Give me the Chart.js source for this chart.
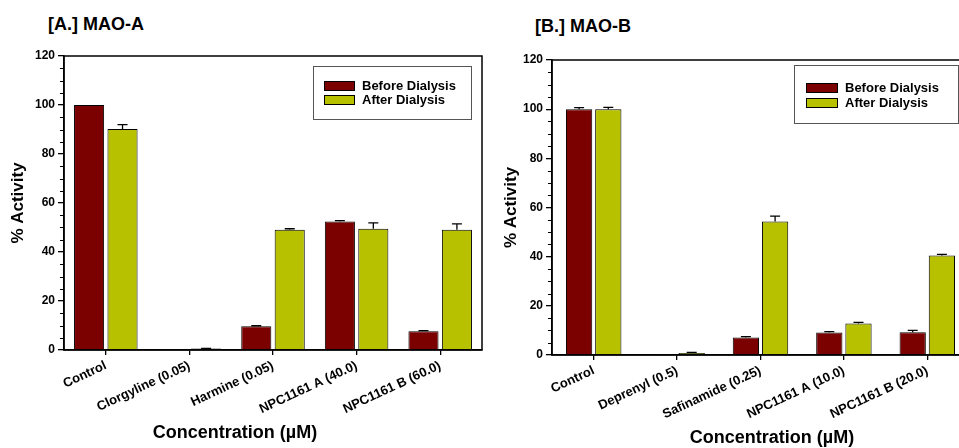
<!DOCTYPE html>
<html>
<head>
<meta charset="utf-8">
<script src="https://cdn.jsdelivr.net/npm/chart.js@4.4.1/dist/chart.umd.min.js"></script>
<style>
  body { margin: 0; width: 959px; height: 448px; overflow: hidden; background: #fff; position: relative;
         font-family: "Liberation Sans", Arial, sans-serif; }
  .wrap { position: absolute; top: 0; height: 448px; }
  .lbl { position: absolute; font-weight: bold; white-space: nowrap; font-size: 18px; color: #000; }
  .xt { transform: translateX(-50%); }
</style>
</head>
<body>
<div class="lbl" style="left:48px;top:14px">[A.] MAO-A</div>
<div class="lbl" style="left:535px;top:16px">[B.] MAO-B</div>
<div class="wrap" style="left:0;width:490px"><canvas id="chartA"></canvas></div>
<div class="wrap" style="left:480px;width:500px"><canvas id="chartB"></canvas></div>
<div class="lbl xt" style="left:235px;top:422px">Concentration (µM)</div>
<div class="lbl xt" style="left:772px;top:427px">Concentration (µM)</div>

<script>
// Panel A: MAO-A
const categoriesA = ["Control", "Clorgyline (0.05)", "Harmine (0.05)", "NPC1161 A (40.0)", "NPC1161 B (60.0)"];
const beforeA = [100, 0.2, 9.7, 52.5, 7.7];
const beforeErrA = [0, 0, 0.2, 0.3, 0.2];
const afterA = [90.2, 0.6, 49.1, 49.5, 49.1];
const afterErrA = [1.8, 0.1, 0.4, 2.4, 2.4];

// Panel B: MAO-B
const categoriesB = ["Control", "Deprenyl (0.5)", "Safinamide (0.25)", "NPC1161 A (10.0)", "NPC1161 B (20.0)"];
const beforeB = [100, 0.2, 7.1, 9.2, 9.3];
const beforeErrB = [0.6, 0, 0.4, 0.3, 0.7];
const afterB = [100, 0.8, 54.3, 12.8, 40.5];
const afterErrB = [0.7, 0.3, 2.2, 0.5, 0.4];

const yTicks = [0, 20, 40, 60, 80, 100, 120];
const seriesNames = ["Before Dialysis", "After Dialysis"];
const MAROON = "#7b0000";
const OLIVE = "#b7c100";

Chart.defaults.font.family = "'Liberation Sans', Arial, sans-serif";
Chart.defaults.color = "#000";

// error bars, box frame, minor ticks and the boxed legend
const extrasPlugin = {
  id: "extras",
  afterDatasetsDraw(chart, args, opts) {
    const ctx = chart.ctx;
    const y = chart.scales.y;
    ctx.save();
    ctx.strokeStyle = "#000";
    ctx.lineWidth = 1.3;
    chart.data.datasets.forEach((ds, i) => {
      const errs = opts.errors[i];
      chart.getDatasetMeta(i).data.forEach((bar, j) => {
        const e = errs[j];
        if (!e) return;
        const top = y.getPixelForValue(ds.data[j] + e);
        ctx.beginPath();
        ctx.moveTo(bar.x, bar.y);
        ctx.lineTo(bar.x, top);
        ctx.moveTo(bar.x - 5, top);
        ctx.lineTo(bar.x + 5, top);
        ctx.stroke();
      });
    });
    ctx.restore();
  },
  afterDraw(chart, args, opts) {
    const ctx = chart.ctx;
    const area = chart.chartArea;
    const y = chart.scales.y;
    ctx.save();
    ctx.strokeStyle = "#000";
    // frame
    ctx.lineWidth = 1.5;
    ctx.strokeRect(area.left, area.top, area.right - area.left, area.bottom - area.top);
    // minor ticks every 5
    ctx.lineWidth = 1;
    for (let v = 5; v < 120; v += 5) {
      if (v % 20 === 0) continue;
      const py = Math.round(y.getPixelForValue(v)) + 0.5;
      ctx.beginPath();
      ctx.moveTo(area.left - 4, py);
      ctx.lineTo(area.left, py);
      ctx.stroke();
    }
    // legend
    const L = opts.legend;
    const bx = area.right - L.right - L.w;
    const by = area.top + L.top;
    ctx.strokeStyle = "#555";
    ctx.lineWidth = 1;
    ctx.strokeRect(bx + 0.5, by + 0.5, L.w, L.h);
    ctx.font = "bold 13px 'Liberation Sans', Arial, sans-serif";
    ctx.textBaseline = "middle";
    chart.data.datasets.forEach((ds, i) => {
      const sy = by + L.rowTop + i * L.rowGap;
      ctx.fillStyle = ds.backgroundColor;
      ctx.fillRect(bx + L.sx, sy, L.sw, 10);
      ctx.strokeStyle = "#000";
      ctx.strokeRect(bx + L.sx + 0.5, sy + 0.5, L.sw - 1, 9);
      ctx.fillStyle = "#000";
      ctx.fillText(ds.label, bx + L.sx + L.sw + 7, sy + 5.5);
    });
    ctx.restore();
  }
};

function makeChart(id, categories, before, after, errs, cfg) {
  return new Chart(document.getElementById(id), {
    type: "bar",
    data: {
      labels: categories,
      datasets: [
        { label: seriesNames[0], data: before, backgroundColor: MAROON, borderColor: "#000", borderWidth: 1 },
        { label: seriesNames[1], data: after, backgroundColor: OLIVE, borderColor: "#000", borderWidth: 1 },
      ],
    },
    options: {
      responsive: true,
      maintainAspectRatio: false,
      animation: false,
      categoryPercentage: cfg.cp,
      barPercentage: 0.9,
      layout: { padding: { top: cfg.top, right: cfg.right, left: 0, bottom: 0 } },
      plugins: {
        legend: { display: false },
        tooltip: { enabled: false },
        extras: { errors: errs, legend: cfg.legend },
      },
      scales: {
        x: {
          grid: { offset: false, drawOnChartArea: false, drawTicks: true, tickLength: 5, color: "#000", lineWidth: 1.3 },
          border: { display: true, color: "#000", width: 1.5 },
          ticks: { autoSkip: false, minRotation: 25, maxRotation: 25, padding: 3,
                   font: { size: 13, weight: "bold" }, color: "#000" },
          afterFit: (s) => { s.height = 448 - cfg.bottom; s.paddingLeft = 0; s.paddingRight = 0; },
        },
        y: {
          min: 0,
          max: 120,
          afterBuildTicks: (s) => { s.ticks = yTicks.map((v) => ({ value: v })); },
          grid: { drawOnChartArea: false, drawTicks: true, tickLength: 6, color: "#000", lineWidth: 1.3 },
          border: { display: true, color: "#000", width: 1.5 },
          ticks: { padding: 3, font: { size: 12, weight: "bold" }, color: "#000" },
          title: { display: true, text: "% Activity", font: { size: 17, weight: "bold" }, color: "#000",
                   padding: { top: cfg.titlePad, bottom: 0 } },
          afterFit: (s) => { s.width = cfg.yWidth; s.paddingTop = 0; s.paddingBottom = 0; },
        },
      },
    },
    plugins: [extrasPlugin],
  });
}

makeChart("chartA", categoriesA, beforeA, afterA, [beforeErrA, afterErrA], {
  cp: 0.8, top: 56, right: 8, bottom: 350, yWidth: 64, titlePad: 8,
  legend: { right: 11, top: 10, w: 158, h: 53, sx: 11, sw: 31, rowTop: 15, rowGap: 14 },
});

makeChart("chartB", categoriesB, beforeB, afterB, [beforeErrB, afterErrB], {
  cp: 0.7, top: 60, right: 11, bottom: 355, yWidth: 72, titlePad: 21,
  legend: { right: 11, top: 5, w: 164, h: 58, sx: 12, sw: 32, rowTop: 18, rowGap: 15 },
});
</script>
</body>
</html>
